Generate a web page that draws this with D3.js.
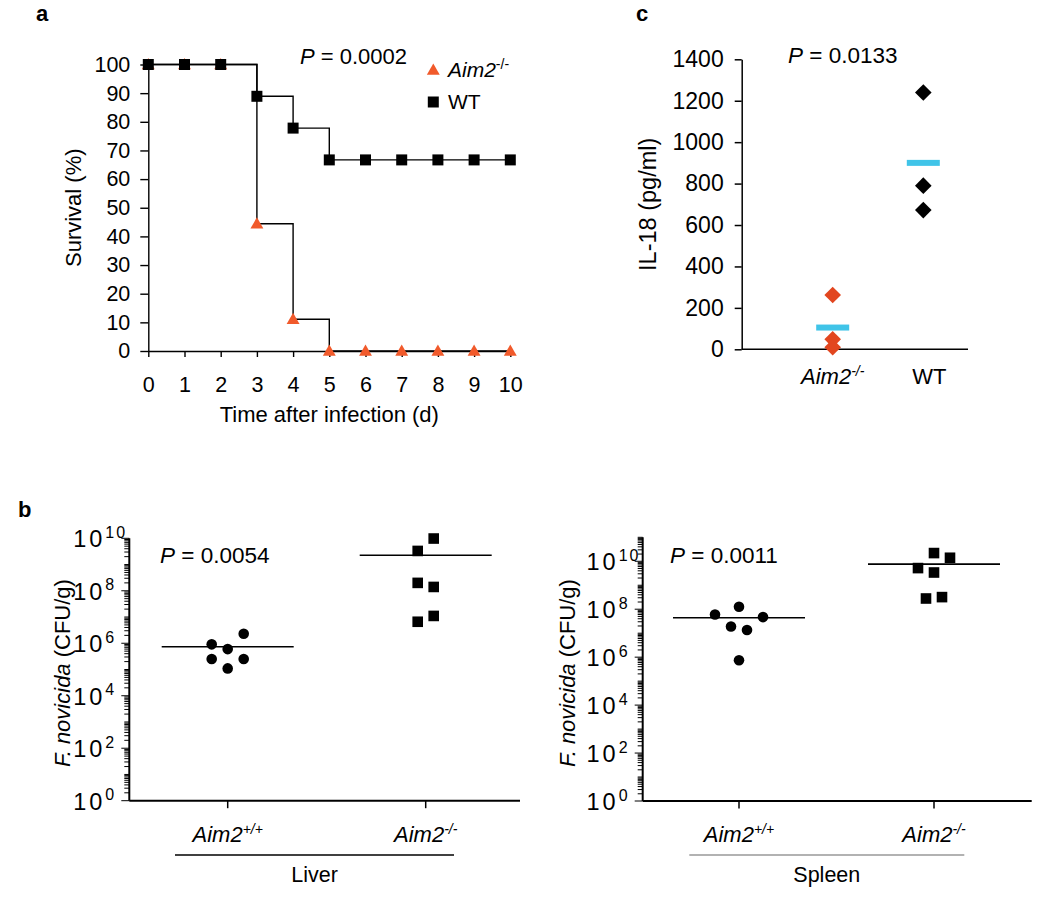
<!DOCTYPE html>
<html><head><meta charset="utf-8">
<script src="https://cdn.jsdelivr.net/npm/d3@7"></script>
<style>
body{margin:0;background:#fff}
svg{font-family:"Liberation Sans",Arial,Helvetica,sans-serif}
</style></head><body>
<svg id="fig" width="1050" height="900"></svg>
<script>
// ---------- Panel a: survival ----------
const days = [0,1,2,3,4,5,6,7,8,9,10];
const survivalAim2 = [100,100,100,44.4,11.1,0,0,0,0,0,0];
const survivalWT = [100,100,100,88.9,77.8,66.7,66.7,66.7,66.7,66.7,66.7];
const survivalTicks = [0,10,20,30,40,50,60,70,80,90,100];

// ---------- Panel c: IL-18 ----------
const il18Groups = ["Aim2", "WT"];
const il18Aim2 = [262, 48, 10];
const il18WT = [1240, 790, 672];
const il18Means = [105, 900];
const il18Ticks = [0,200,400,600,800,1000,1200,1400];

// ---------- Panel b: CFU ----------
const cfuGroups = ["wt", "ko"];
const liverWT = [9.1e5, 6.0e5, 2.3e6, 2.5e5, 2.5e5, 1.1e5];
const liverWTSlot = [-2, 0, 2, -2, 2, 0];
const liverKO = [9.8e9, 3.3e9, 2.0e8, 1.4e8, 6.6e6, 1.1e7];
const liverKOSlot = [1, -1, -1, 1, -1, 1];
const liverMeans = [7.4e5, 2.25e9];
const spleenWT = [6.0e7, 1.26e8, 4.7e7, 1.9e7, 1.35e7, 7.4e5];
const spleenWTSlot = [-3, 0, 3, -1, 1, 0];
const spleenKO = [2.2e10, 1.4e10, 5.2e9, 3.4e9, 2.8e8, 3.2e8];
const spleenKOSlot = [0, 2, -2, 0, -1, 1];
const spleenMeans = [4.4e7, 7.6e9];
const logMajorExps = [0, 2, 4, 6, 8, 10];

const svg = d3.select("#fig");
const ORANGE = "#f15a2b", DIAMOND_OR = "#e2461f", CYAN = "#40c4e8";

function panelLetter(t, x, y) {
  svg.append("text").attr("x", x).attr("y", y).attr("font-size", 22)
    .attr("font-weight", "bold").text(t);
}
function pText(x, y, val, fs) {
  const t = svg.append("text").attr("x", x).attr("y", y).attr("font-size", fs);
  t.append("tspan").attr("font-style", "italic").text("P");
  t.append("tspan").text(" = " + val);
}
function genoLabel(g, x, y, sup, fs, supfs) {
  const t = g.append("text").attr("x", x).attr("y", y).attr("font-size", fs)
    .attr("text-anchor", "middle");
  t.append("tspan").attr("font-style", "italic").text("Aim2");
  t.append("tspan").attr("font-size", supfs).attr("dy", -8).attr("font-style", "italic").text(sup);
  return t;
}

// ================= Panel a =================
panelLetter("a", 36, 21);
{
  const x = d3.scaleLinear().domain([0, 10]).range([148.3, 510.3]);
  const y = d3.scaleLinear().domain([0, 100]).range([351, 64.5]);
  const g = svg.append("g");

  const yAx = g.append("g").attr("transform", `translate(${x(0)},0)`)
    .call(d3.axisLeft(y).tickValues(survivalTicks).tickSize(8).tickPadding(10).tickSizeOuter(0));
  const xAx = g.append("g").attr("transform", `translate(0,${y(0)})`)
    .call(d3.axisBottom(x).tickValues(days).tickSize(6).tickPadding(20).tickSizeOuter(0));
  [yAx, xAx].forEach(a => {
    a.selectAll("text").attr("font-size", 21.5).attr("font-family", "Liberation Sans, Arial, sans-serif").attr("fill", "#000");
    a.selectAll("line,path").attr("stroke", "#000").attr("stroke-width", 1.4);
  });

  const line = d3.line().x((d, i) => x(days[i])).y(d => y(d)).curve(d3.curveStepAfter);
  g.append("path").datum(survivalAim2).attr("d", line).attr("fill", "none")
    .attr("stroke", "#000").attr("stroke-width", 1.4);
  g.append("path").datum(survivalWT).attr("d", line).attr("fill", "none")
    .attr("stroke", "#000").attr("stroke-width", 1.4);

  const tri = d3.symbol(d3.symbolTriangle, 72);
  g.selectAll(".tri").data(survivalAim2).join("path")
    .attr("d", tri).attr("fill", ORANGE)
    .attr("transform", (d, i) => `translate(${x(days[i])},${y(d) + 1})`);
  const sq = d3.symbol(d3.symbolSquare, 121);
  g.selectAll(".sq").data(survivalWT).join("path")
    .attr("d", sq).attr("fill", "#000")
    .attr("transform", (d, i) => `translate(${x(days[i])},${y(d)})`);

  g.append("text").attr("x", x(5)).attr("y", 422).attr("font-size", 22)
    .attr("text-anchor", "middle").text("Time after infection (d)");
  g.append("text").attr("transform", `translate(81,${(y(0) + y(100)) / 2}) rotate(-90)`)
    .attr("font-size", 22).attr("text-anchor", "middle").text("Survival (%)");

  pText(300, 64, "0.0002", 22);

  // legend
  g.append("path").attr("d", tri).attr("fill", ORANGE).attr("transform", "translate(433.3,71)");
  const lt = g.append("text").attr("x", 448).attr("y", 77).attr("font-size", 21);
  lt.append("tspan").attr("font-style", "italic").text("Aim2");
  lt.append("tspan").attr("font-size", 14).attr("dy", -8).text("-/-");
  g.append("path").attr("d", sq).attr("fill", "#000").attr("transform", "translate(433.3,102)");
  g.append("text").attr("x", 448).attr("y", 109).attr("font-size", 21).text("WT");
}

// ================= Panel c =================
panelLetter("c", 636, 21);
{
  const x = d3.scalePoint().domain(il18Groups).range([832.7, 923.3]);
  const y = d3.scaleLinear().domain([0, 1400]).range([349.3, 59.3]);
  const g = svg.append("g");
  const yAx = g.append("g").attr("transform", "translate(741.7,0)")
    .call(d3.axisLeft(y).tickValues(il18Ticks).tickFormat(d3.format("d")).tickSize(7).tickPadding(11).tickSizeOuter(0));
  yAx.selectAll("text").attr("font-size", 23).attr("font-family", "Liberation Sans, Arial, sans-serif").attr("fill", "#000");
  yAx.selectAll("line,path").attr("stroke", "#000").attr("stroke-width", 1.5);
  g.append("line").attr("x1", 741.7).attr("x2", 968).attr("y1", y(0)).attr("y2", y(0))
    .attr("stroke", "#000").attr("stroke-width", 1.5);

  const dia = d3.symbol(d3.symbolSquare, 138);
  const pts = [
    ...il18Aim2.map(v => ({ g: "Aim2", v, c: DIAMOND_OR })),
    ...il18WT.map(v => ({ g: "WT", v, c: "#000" }))
  ];
  g.selectAll(".dia").data(pts).join("path").attr("d", dia).attr("fill", d => d.c)
    .attr("transform", d => `translate(${x(d.g)},${y(d.v)}) rotate(45)`);
  g.selectAll(".mean").data(il18Means).join("rect")
    .attr("x", (d, i) => x(il18Groups[i]) - 16.5).attr("width", 33)
    .attr("y", d => y(d) - 3).attr("height", 6).attr("fill", CYAN);

  genoLabel(g, x("Aim2"), 384, "-/-", 22, 14);
  g.append("text").attr("x", x("WT") + 6).attr("y", 384).attr("font-size", 22)
    .attr("text-anchor", "middle").text("WT");
  g.append("text").attr("transform", `translate(656,${(y(0) + y(1400)) / 2}) rotate(-90)`)
    .attr("font-size", 23.5).attr("text-anchor", "middle").text("IL-18 (pg/ml)");
  pText(788, 63, "0.0133", 22.5);
}

// ================= Panel b =================
panelLetter("b", 18, 517);
function cfuPanel(opts) {
  const { axisX, xEnd, yBottom, yTop, maxExp, cats, wt, wtSlot, ko, koSlot, means, pval, pX, group, groupLine, groupColor, titleX } = opts;
  const g = svg.append("g");
  const y = d3.scaleLog().domain([1, Math.pow(10, maxExp)]).range([yBottom, yTop]);
  const x = d3.scalePoint().domain(cfuGroups).range(cats);
  const unit = 8;

  // y axis line
  g.append("line").attr("x1", axisX).attr("x2", axisX).attr("y1", yTop).attr("y2", yBottom)
    .attr("stroke", "#000").attr("stroke-width", 2);
  // minor + major ticks
  const minor = [];
  for (let e = 0; e < maxExp; e++) for (let m = 1; m <= 9; m++) minor.push(m * Math.pow(10, e));
  minor.push(Math.pow(10, maxExp));
  g.selectAll(".mt").data(minor).join("line")
    .attr("x1", d => axisX - (logMajorExps.some(e => Math.abs(Math.log10(d) - e) < 1e-9) ? 8 : 5))
    .attr("x2", axisX).attr("y1", d => y(d)).attr("y2", d => y(d))
    .attr("stroke", "#000").attr("stroke-width", 1);
  // major labels: base "10" and exponent
  g.selectAll(".lab").data(logMajorExps).join("text")
    .attr("x", axisX - 24).attr("y", d => y(Math.pow(10, d)) + 9)
    .attr("text-anchor", "end").attr("font-size", 23.5).attr("letter-spacing", 3).text("10");
  g.selectAll(".sup").data(logMajorExps).join("text")
    .attr("x", axisX - 24).attr("y", d => y(Math.pow(10, d)) - 0.5)
    .attr("text-anchor", "start").attr("font-size", 16).attr("letter-spacing", 2).text(d => d);

  // x axis
  g.append("line").attr("x1", axisX).attr("x2", xEnd).attr("y1", yBottom).attr("y2", yBottom)
    .attr("stroke", "#000").attr("stroke-width", 2);
  g.selectAll(".ct").data(cfuGroups).join("line")
    .attr("x1", d => x(d)).attr("x2", d => x(d)).attr("y1", yBottom).attr("y2", yBottom + 7.5)
    .attr("stroke", "#000").attr("stroke-width", 1.5);

  // means
  g.selectAll(".mn").data(means).join("line")
    .attr("x1", (d, i) => x(cfuGroups[i]) - 66).attr("x2", (d, i) => x(cfuGroups[i]) + 66)
    .attr("y1", d => y(d)).attr("y2", d => y(d)).attr("stroke", "#000").attr("stroke-width", 1.6);
  // circles
  g.selectAll(".c").data(wt).join("circle")
    .attr("cx", (d, i) => x("wt") + wtSlot[i] * unit).attr("cy", d => y(d)).attr("r", 5.3)
    .attr("fill", "#000");
  // squares
  g.selectAll(".s").data(ko).join("rect")
    .attr("x", (d, i) => x("ko") + koSlot[i] * unit - 5.3).attr("y", d => y(d) - 5.3)
    .attr("width", 10.6).attr("height", 10.6).attr("fill", "#000");

  // labels
  genoLabel(g, x("wt"), 841.7, "+/+", 22, 14);
  genoLabel(g, x("ko"), 841.7, "-/-", 22, 14);
  g.append("line").attr("x1", groupLine[0]).attr("x2", groupLine[1]).attr("y1", 855).attr("y2", 855)
    .attr("stroke", groupColor).attr("stroke-width", 1.3);
  g.append("text").attr("x", (groupLine[0] + groupLine[1]) / 2).attr("y", 881.7)
    .attr("font-size", 21.5).attr("text-anchor", "middle").text(group);
  const tt = g.append("text").attr("transform", `translate(${titleX},673) rotate(-90)`)
    .attr("font-size", 22).attr("text-anchor", "middle");
  tt.append("tspan").attr("font-style", "italic").text("F. novicida");
  tt.append("tspan").text(" (CFU/g)");
  pText(pX, 563.3, pval, 22.5);
}

cfuPanel({ axisX: 129.3, xEnd: 520, yBottom: 800.7, yTop: 538.3, maxExp: 10,
  cats: [227.7, 425.7], wt: liverWT, wtSlot: liverWTSlot, ko: liverKO, koSlot: liverKOSlot,
  means: liverMeans, pval: "0.0054", pX: 160, group: "Liver", groupLine: [175, 454],
  groupColor: "#000", titleX: 69.5 });
cfuPanel({ axisX: 642.7, xEnd: 1031.7, yBottom: 801, yTop: 537.3, maxExp: 11,
  cats: [739, 934], wt: spleenWT, wtSlot: spleenWTSlot, ko: spleenKO, koSlot: spleenKOSlot,
  means: spleenMeans, pval: "0.0011", pX: 670, group: "Spleen", groupLine: [689.3, 964.3],
  groupColor: "#999", titleX: 574.5 });
</script>
</body></html>
